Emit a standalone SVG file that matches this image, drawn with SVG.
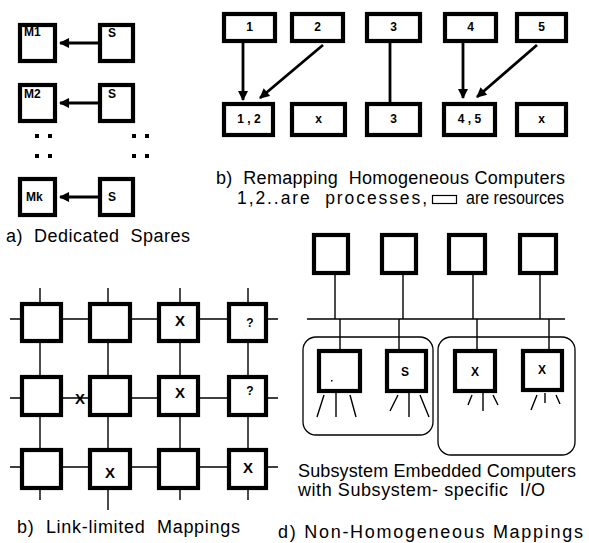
<svg xmlns="http://www.w3.org/2000/svg" width="589" height="543" viewBox="0 0 589 543">
<defs>
<style>
.bx{fill:#fff;stroke:#000;stroke-width:4.2}
.ln{stroke:#000;stroke-width:1.4;fill:none}
.ar{stroke:#000;stroke-width:2.8;fill:none}
.grp{fill:none;stroke:#000;stroke-width:1.3}
.lb{font-family:"Liberation Sans",Arial,sans-serif;font-weight:bold;font-size:12px;fill:#000}
.lx{font-family:"Liberation Sans",Arial,sans-serif;font-weight:bold;font-size:15px;fill:#000}
.cap{font-family:"Liberation Sans",Arial,sans-serif;font-size:18px;fill:#000}
.cap2{font-family:"Liberation Sans",Arial,sans-serif;font-size:17.5px;fill:#000}
</style>
<marker id="ah" viewBox="0 0 10 10" refX="9" refY="5" markerWidth="4" markerHeight="3.6" orient="auto" markerUnits="strokeWidth">
<path d="M0,0 L10,5 L0,10 z" fill="#000"/>
</marker>
</defs>

<!-- a) Dedicated spares -->
<g id="a-M1"><rect class="bx" x="20" y="25" width="35" height="36"/><text class="lb" x="24" y="36">M1</text></g>
<g id="a-S1"><rect class="bx" x="100" y="25" width="33" height="36"/><text class="lb" x="108" y="37">S</text></g>
<g id="a-M2"><rect class="bx" x="20" y="85" width="35" height="36"/><text class="lb" x="24" y="98">M2</text></g>
<g id="a-S2"><rect class="bx" x="100" y="85" width="33" height="36"/><text class="lb" x="108" y="98">S</text></g>
<g id="a-Mk"><rect class="bx" x="20" y="179" width="35" height="36"/><text class="lb" x="26" y="201">Mk</text></g>
<g id="a-Sk"><rect class="bx" x="100" y="179" width="33" height="36"/><text class="lb" x="108" y="201">S</text></g>
<g id="a-dots" fill="#000">
<rect x="35" y="134" width="4" height="4"/><rect x="48" y="134" width="4" height="4"/>
<rect x="35" y="154" width="4" height="4"/><rect x="48" y="154" width="4" height="4"/>
<rect x="132" y="134" width="4" height="4"/><rect x="145" y="134" width="4" height="4"/>
<rect x="132" y="154" width="4" height="4"/><rect x="145" y="154" width="4" height="4"/>
</g>

<!-- b) Remapping -->
<g id="b-p1"><rect class="bx" x="224" y="14" width="51" height="27"/><text class="lb" x="249.5" y="31" text-anchor="middle">1</text></g>
<g id="b-p2"><rect class="bx" x="292" y="14" width="51" height="27"/><text class="lb" x="317.5" y="31" text-anchor="middle">2</text></g>
<g id="b-p3"><rect class="bx" x="367" y="14" width="53" height="27"/><text class="lb" x="393.5" y="31" text-anchor="middle">3</text></g>
<g id="b-p4"><rect class="bx" x="445" y="14" width="51" height="27"/><text class="lb" x="470.5" y="31" text-anchor="middle">4</text></g>
<g id="b-p5"><rect class="bx" x="517" y="14" width="49" height="27"/><text class="lb" x="541.5" y="31" text-anchor="middle">5</text></g>
<g id="b-r1"><rect class="bx" x="224" y="104" width="49" height="31"/><text class="lb" x="249" y="123" text-anchor="middle" xml:space="preserve">1 , 2</text></g>
<g id="b-r2"><rect class="bx" x="292" y="104" width="53" height="31"/><text class="lb" x="318.5" y="123" text-anchor="middle">x</text></g>
<g id="b-r3"><rect class="bx" x="367" y="104" width="53" height="31"/><text class="lb" x="393.5" y="123" text-anchor="middle">3</text></g>
<g id="b-r4"><rect class="bx" x="444" y="104" width="51" height="31"/><text class="lb" x="469.5" y="123" text-anchor="middle" xml:space="preserve">4 , 5</text></g>
<g id="b-r5"><rect class="bx" x="517" y="104" width="49" height="31"/><text class="lb" x="541.5" y="123" text-anchor="middle">x</text></g>

<!-- c) Link-limited grid -->
<g id="c-links" class="ln">
<path d="M10,319 H278 M10,398 H278 M10,467 H278"/>
<path d="M40,288 V500 M108,288 V510 M180,288 V500 M248,288 V500"/>
</g>
<g id="c-n11"><rect class="bx" x="22" y="304" width="39" height="37"/></g>
<g id="c-n12"><rect class="bx" x="90" y="304" width="40" height="37"/></g>
<g id="c-n13"><rect class="bx" x="159" y="304" width="39" height="37"/><text class="lx" x="180" y="326" text-anchor="middle">X</text></g>
<g id="c-n14"><rect class="bx" x="229" y="304" width="37" height="37"/><text class="lb" x="250" y="327" text-anchor="middle">?</text></g>
<g id="c-n21"><rect class="bx" x="22" y="377" width="39" height="38"/></g>
<g id="c-n22"><rect class="bx" x="90" y="377" width="40" height="38"/></g>
<g id="c-n23"><rect class="bx" x="159" y="377" width="39" height="38"/><text class="lx" x="180" y="398" text-anchor="middle">X</text></g>
<g id="c-n24"><rect class="bx" x="229" y="377" width="37" height="38"/><text class="lb" x="250" y="395" text-anchor="middle">?</text></g>
<g id="c-n31"><rect class="bx" x="22" y="450" width="39" height="38"/></g>
<g id="c-n32"><rect class="bx" x="90" y="450" width="40" height="38"/><text class="lx" x="110" y="478" text-anchor="middle">X</text></g>
<g id="c-n33"><rect class="bx" x="159" y="450" width="39" height="38"/></g>
<g id="c-n34"><rect class="bx" x="229" y="450" width="37" height="38"/><text class="lx" x="248" y="473" text-anchor="middle">X</text></g>
<text class="lx" x="80" y="404" text-anchor="middle">X</text>

<!-- d) Non-homogeneous -->
<g id="d-links" class="ln">
<path d="M307,319 H565"/>
<path d="M335,275 V319 M403,275 V319 M473,275 V319 M540,275 V319"/>
<path d="M340,319 V349 M399,319 V349 M477,319 V349 M549,319 V349"/>
<path d="M336,393 V417 M324,395 L317,417 M350,395 L356,417"/>
<path d="M409,393 V417 M398,395 L390,411 M420,395 L429,417"/>
<path d="M483,393 V411 M472,395 L468,405 M493,395 L498,405"/>
<path d="M545,393 V403 M537,395 L531,410 M556,395 L560,404"/>
</g>
<g id="d-grp1"><rect class="grp" x="303" y="337" width="130" height="98" rx="13"/></g>
<g id="d-grp2"><rect class="grp" x="438" y="337" width="137" height="118" rx="13"/></g>
<g id="d-t1"><rect class="bx" x="314" y="235" width="34" height="38"/></g>
<g id="d-t2"><rect class="bx" x="382" y="235" width="34" height="38"/></g>
<g id="d-t3"><rect class="bx" x="449" y="235" width="36" height="38"/></g>
<g id="d-t4"><rect class="bx" x="520" y="235" width="36" height="38"/></g>
<g id="d-b1"><rect class="bx" x="319" y="351" width="41" height="40"/><rect x="331" y="380" width="1.5" height="1.5" fill="#000"/></g>
<g id="d-b2"><rect class="bx" x="387" y="351" width="39" height="40"/><text class="lb" x="405" y="376" text-anchor="middle">S</text></g>
<g id="d-b3"><rect class="bx" x="455" y="351" width="40" height="40"/><text class="lb" x="475" y="376" text-anchor="middle">X</text></g>
<g id="d-b4"><rect class="bx" x="523" y="351" width="39" height="39"/><text class="lb" x="542" y="374" text-anchor="middle">X</text></g>

<!-- captions -->
<text class="cap" x="6" y="242" textLength="184" lengthAdjust="spacing" xml:space="preserve">a)  Dedicated  Spares</text>
<text class="cap" x="216" y="184" textLength="349" lengthAdjust="spacing" xml:space="preserve">b)  Remapping  Homogeneous Computers</text>
<text class="cap2" x="237" y="204" textLength="190" lengthAdjust="spacing" xml:space="preserve">1,2..are  processes,</text>
<rect x="432.5" y="195.5" width="24" height="8" fill="none" stroke="#000" stroke-width="1.2"/>
<text class="cap2" x="466" y="204" textLength="98" lengthAdjust="spacingAndGlyphs">are resources</text>
<text class="cap" x="17" y="533" textLength="223" lengthAdjust="spacing" xml:space="preserve">b)  Link-limited  Mappings</text>
<text class="cap" x="298" y="477" textLength="278" lengthAdjust="spacing">Subsystem Embedded Computers</text>
<text class="cap" x="298" y="496" textLength="247" lengthAdjust="spacing" xml:space="preserve">with Subsystem- specific  I/O</text>
<text class="cap" x="278" y="538" textLength="305" lengthAdjust="spacing">d) Non-Homogeneous Mappings</text>

<!-- arrows -->
<g id="connectors" class="ar">
<path d="M98,43 H60" marker-end="url(#ah)"/>
<path d="M98,103 H60" marker-end="url(#ah)"/>
<path d="M98,197 H60" marker-end="url(#ah)"/>
<path d="M243,43 V100" marker-end="url(#ah)"/>
<path d="M323,45 L260,98" marker-end="url(#ah)"/>
<path d="M390,43 V102"/>
<path d="M463,43 V98" marker-end="url(#ah)"/>
<path d="M537,45 L477,97" marker-end="url(#ah)"/>
</g>
</svg>
